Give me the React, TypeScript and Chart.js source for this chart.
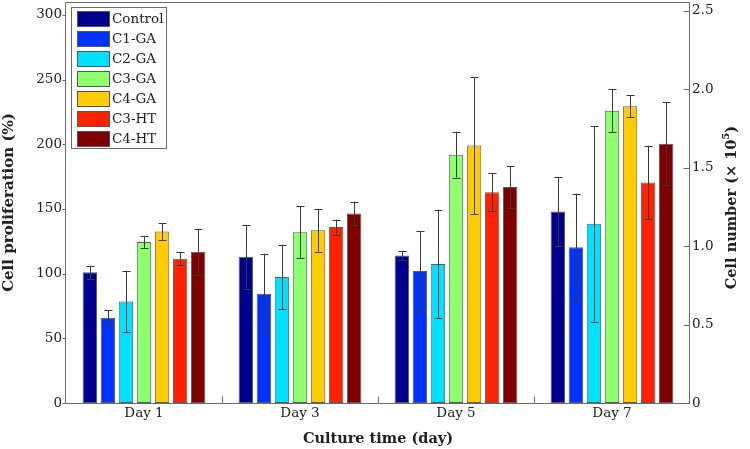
import React, { useEffect, useRef } from "react";
import { Chart, registerables } from "chart.js";
Chart.register(...registerables);

const days = ["Day 1", "Day 3", "Day 5", "Day 7"];
const seriesNames = ["Control", "C1-GA", "C2-GA", "C3-GA", "C4-GA", "C3-HT", "C4-HT"];
const seriesColors = ["#00008F", "#0033FF", "#00E1FF", "#8EFF6E", "#FFCC00", "#FF2200", "#800000"];

const control = [101, 113, 114, 148];
const controlErr = [5, 24.5, 3.3, 26.7];
const c1ga = [66, 84.5, 102, 120.5];
const c1gaErr = [6, 31, 31, 41.4];
const c2ga = [78.5, 97.5, 107.5, 138.5];
const c2gaErr = [23.7, 25, 42, 75.5];
const c3ga = [124.5, 132, 192, 226];
const c3gaErr = [4.6, 20, 17.7, 16.7];
const c4ga = [132.5, 133.5, 199, 229.5];
const c4gaErr = [6.5, 16.5, 53, 8.4];
const c3ht = [111.5, 136, 163, 170.5];
const c3htErr = [5, 5.8, 14.8, 28.5];
const c4ht = [117, 146.5, 167, 200.5];
const c4htErr = [17.8, 9.2, 16, 32];

const seriesValues = [control, c1ga, c2ga, c3ga, c4ga, c3ht, c4ht];
const seriesErrors = [controlErr, c1gaErr, c2gaErr, c3gaErr, c4gaErr, c3htErr, c4htErr];

const leftTicks = [0, 50, 100, 150, 200, 250, 300];
const rightTicks = [0, 0.5, 1, 1.5, 2, 2.5];
const leftMax = 310;
const rightMax = 2.557;

const FONT = "'DejaVu Serif', serif";
const TEXT = "#222";
const FRAME = "#6a6a6a";

const decor = {
  id: "decor",
  afterDatasetsDraw(chart: any) {
    const ctx = chart.ctx;
    const ys = chart.scales.y;
    ctx.save();
    ctx.strokeStyle = "#3a3a3a";
    ctx.lineWidth = 1;
    chart.data.datasets.forEach((ds: any, i: number) => {
      const meta = chart.getDatasetMeta(i);
      meta.data.forEach((bar: any, j: number) => {
        const v = ds.data[j];
        const e = ds.errors[j];
        const yT = ys.getPixelForValue(v + e);
        const yB = ys.getPixelForValue(v - e);
        const x = Math.round(bar.x) + 0.5;
        ctx.beginPath();
        ctx.moveTo(x, yT);
        ctx.lineTo(x, yB);
        ctx.moveTo(x - 4, Math.round(yT) + 0.5);
        ctx.lineTo(x + 4, Math.round(yT) + 0.5);
        ctx.moveTo(x - 4, Math.round(yB) + 0.5);
        ctx.lineTo(x + 4, Math.round(yB) + 0.5);
        ctx.stroke();
      });
    });
    ctx.restore();
  },
  afterDraw(chart: any) {
    const ctx = chart.ctx;
    const { left, right, top, bottom } = chart.chartArea;
    const L = Math.round(left) - 0.5;
    const R = Math.round(right) - 0.5;
    const T = Math.round(top) + 0.5;
    const B = Math.round(bottom) + 0.5;
    ctx.save();
    ctx.strokeStyle = FRAME;
    ctx.lineWidth = 1;
    ctx.beginPath();
    ctx.rect(L, T, R - L, B - T);
    leftTicks.forEach((t) => {
      const y = Math.round(chart.scales.y.getPixelForValue(t)) + 0.5;
      ctx.moveTo(L - 3, y);
      ctx.lineTo(L, y);
    });
    rightTicks.forEach((t) => {
      const y = Math.round(chart.scales.y1.getPixelForValue(t)) + 0.5;
      ctx.moveTo(R - 6, y);
      ctx.lineTo(R, y);
    });
    const xs = chart.scales.x;
    for (let i = 0; i < days.length - 1; i++) {
      const x = Math.round((xs.getPixelForValue(i) + xs.getPixelForValue(i + 1)) / 2) + 0.5;
      ctx.moveTo(x, B);
      ctx.lineTo(x, B - 7);
    }
    ctx.stroke();

    // Legend
    const bx = 71.5, by = 7.5, bw = 95, bh = 141;
    ctx.fillStyle = "#fff";
    ctx.fillRect(bx, by, bw, bh);
    ctx.strokeStyle = FRAME;
    ctx.strokeRect(bx, by, bw, bh);
    ctx.font = `13.5px ${FONT}`;
    ctx.textBaseline = "middle";
    ctx.textAlign = "left";
    chart.data.datasets.forEach((ds: any, i: number) => {
      const sy = 11 + i * 20;
      ctx.fillStyle = ds.backgroundColor;
      ctx.fillRect(77, sy, 32, 15);
      ctx.strokeStyle = "#555";
      ctx.strokeRect(77.5, sy + 0.5, 32, 15);
      ctx.fillStyle = TEXT;
      ctx.fillText(ds.label, 112, sy + 8.5);
    });

    // Right axis title (reads bottom-to-top) with superscript
    const main = "Cell number (\u00d7 10";
    const sup = "5";
    const close = ")";
    ctx.font = `bold 14.5px ${FONT}`;
    const w1 = ctx.measureText(main).width;
    const w3 = ctx.measureText(close).width;
    ctx.font = `bold 10px ${FONT}`;
    const w2 = ctx.measureText(sup).width;
    const total = w1 + w2 + w3;
    const cy = (top + bottom) / 2 + 5;
    ctx.translate(736, cy);
    ctx.rotate(-Math.PI / 2);
    ctx.textBaseline = "alphabetic";
    ctx.fillStyle = TEXT;
    let x0 = -total / 2;
    ctx.font = `bold 14.5px ${FONT}`;
    ctx.fillText(main, x0, 0);
    x0 += w1;
    ctx.font = `bold 10px ${FONT}`;
    ctx.fillText(sup, x0, -7);
    x0 += w2;
    ctx.font = `bold 14.5px ${FONT}`;
    ctx.fillText(close, x0, 0);
    ctx.restore();
  },
};

export default function App() {
  const ref = useRef<HTMLCanvasElement | null>(null);
  useEffect(() => {
    if (!ref.current) return;
    const datasets = seriesNames.map((name, i) => ({
      label: name,
      data: seriesValues[i],
      errors: seriesErrors[i],
      backgroundColor: seriesColors[i],
      borderColor: "#5a5a5a",
      borderWidth: 1,
      borderSkipped: false,
      yAxisID: "y",
      categoryPercentage: 0.81,
      barPercentage: 0.8,
    }));
    const chart = new Chart(ref.current, {
      type: "bar",
      data: { labels: days, datasets: datasets as any },
      plugins: [decor],
      options: {
        animation: false,
        responsive: true,
        maintainAspectRatio: false,
        layout: { padding: { top: 2, left: 0, right: 0, bottom: 0 } },
        plugins: { legend: { display: false }, tooltip: { enabled: false } },
        scales: {
          x: {
            position: "bottom",
            offset: true,
            grid: { display: false, drawTicks: false },
            border: { display: false },
            ticks: { color: TEXT, font: { family: FONT, size: 13.5 }, padding: 2 },
            title: {
              display: true,
              text: "Culture time (day)",
              color: TEXT,
              font: { family: FONT, size: 14.5, weight: "bold" },
              padding: { top: 0, bottom: 1 },
            },
            afterFit: (s: any) => {
              s.height = 46;
              s.paddingLeft = 0;
              s.paddingRight = 0;
            },
          },
          y: {
            position: "left",
            min: 0,
            max: leftMax,
            grid: { display: false, drawTicks: false },
            border: { display: false },
            ticks: { stepSize: 50, color: TEXT, font: { family: FONT, size: 13.5 }, padding: 4 },
            afterBuildTicks: (s: any) => {
              s.ticks = leftTicks.map((v) => ({ value: v }));
            },
            title: {
              display: true,
              text: "Cell proliferation (%)",
              color: TEXT,
              font: { family: FONT, size: 15, weight: "bold" },
              padding: { top: 0, bottom: 0 },
            },
            afterFit: (s: any) => {
              s.width = 66;
              s.paddingTop = 0;
              s.paddingBottom = 0;
            },
          },
          y1: {
            position: "right",
            display: true,
            min: 0,
            max: rightMax,
            grid: { display: false, drawTicks: false },
            border: { display: false },
            ticks: { stepSize: 0.5, color: TEXT, font: { family: FONT, size: 13.5 }, padding: 2 },
            afterBuildTicks: (s: any) => {
              s.ticks = rightTicks.map((v) => ({ value: v }));
            },
            afterFit: (s: any) => {
              s.width = 60;
              s.paddingTop = 0;
              s.paddingBottom = 0;
            },
          },
        },
      } as any,
    });
    return () => chart.destroy();
  }, []);
  return (
    <div style={{ position: "absolute", left: 0, top: 0, width: 750, height: 449 }}>
      <canvas ref={ref} />
    </div>
  );
}
